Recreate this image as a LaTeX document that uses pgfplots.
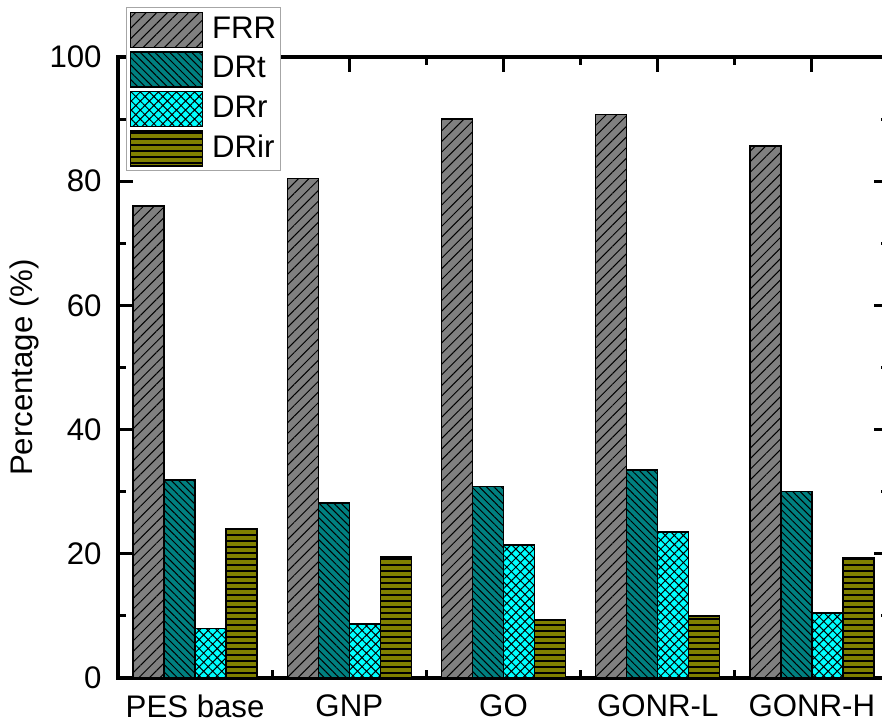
\documentclass[border=0pt]{standalone}
\usepackage{fontspec}
\setmainfont{Liberation Sans}
\usepackage{pgfplots}
\pgfplotsset{compat=1.18}
\usetikzlibrary{patterns.meta}
\definecolor{cFRR}{RGB}{128,128,128}
\definecolor{cDRt}{RGB}{0,128,128}
\definecolor{cDRr}{RGB}{0,255,255}
\definecolor{cDRir}{RGB}{128,128,0}
\newcommand{\chartfont}{\fontsize{15.6}{19}\selectfont}
\pgfplotsset{
  mylegend/.style={legend image code/.code={\draw[##1] (0pt,-8.75pt) rectangle (36pt,8.75pt);}},
}
\begin{document}
\chartfont
\begin{tikzpicture}
\begin{axis}[
  scale only axis, width=385.5pt, height=310.5pt,
  ybar=0pt, bar width=15.5pt,
  xmin=-0.5, xmax=4.5, ymin=0, ymax=100,
  xtick={0,1,2,3,4}, xticklabels={PES base,GNP,GO,GONR-L,GONR-H},
  minor xtick={0.5,1.5,2.5,3.5},
  ytick={0,20,40,60,80,100}, minor ytick={10,30,50,70,90},
  tick align=inside,
  major tick length=7.5pt, minor tick length=4pt,
  every tick/.append style={black, line width=1.5pt},
  every minor tick/.append style={black, line width=1.5pt},
  axis line style={line width=2pt},
  ylabel={Percentage (\%)},
  /pgf/number format/assume math mode=true,
  tick label style={font=\chartfont, inner sep=0pt},
  yticklabel style={xshift=-8pt},
  xticklabel style={yshift=-8pt},
  label style={font=\chartfont},
  ylabel style={inner sep=5pt},
  legend cell align=left,
  legend style={at={(axis description cs:0.0104,1.0805)}, anchor=north west,
    draw=gray!70, line width=0.6pt, fill=white, inner xsep=1.5pt, inner ysep=2pt,
    row sep=1.5pt, font=\chartfont, nodes={inner sep=0.5pt},
    /tikz/every odd column/.append style={column sep=4pt}},
]
\addplot[mylegend, draw=black, line width=0.75pt, fill=cFRR,
  postaction={pattern={Lines[angle=45,distance=3.75pt,line width=0.5pt]}}]
  coordinates {(0,76.0) (1,80.4) (2,90.0) (3,90.7) (4,85.7)};
\addlegendentry{\chartfont FRR}
\addplot[mylegend, draw=black, line width=0.75pt, fill=cDRt,
  postaction={pattern={Lines[angle=-45,distance=2.6pt,line width=0.5pt]}}]
  coordinates {(0,31.9) (1,28.2) (2,30.8) (3,33.5) (4,30.0)};
\addlegendentry{\chartfont DRt}
\addplot[mylegend, draw=black, line width=0.75pt, fill=cDRr,
  postaction={pattern={Hatch[angle=45,distance=3.2pt,line width=0.5pt]}}]
  coordinates {(0,8.0) (1,8.7) (2,21.4) (3,23.5) (4,10.5)};
\addlegendentry{\chartfont DRr}
\addplot[mylegend, draw=black, line width=0.75pt, fill=cDRir,
  postaction={pattern={Lines[angle=0,distance=3pt,line width=0.8pt]}}]
  coordinates {(0,24.0) (1,19.5) (2,9.3) (3,10.0) (4,19.3)};
\addlegendentry{\chartfont DRir}
\coordinate (sw) at (rel axis cs:0,0);
\end{axis}
\pgfresetboundingbox
\path[use as bounding box] (sw) ++(-59pt,-21.5pt) rectangle ++(441pt,360.5pt);
\end{tikzpicture}
\end{document}
